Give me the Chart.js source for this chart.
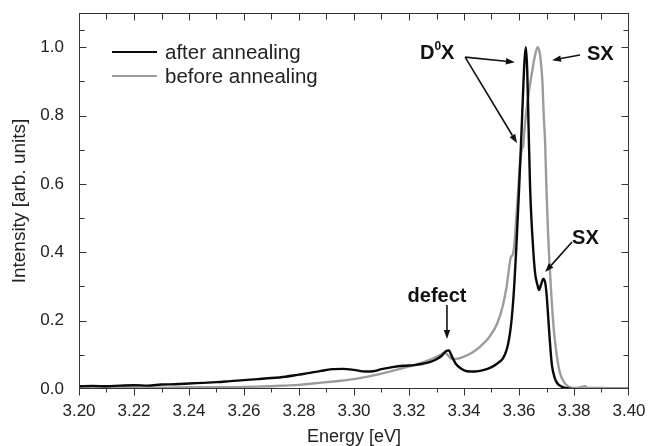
<!DOCTYPE html>
<html>
<head>
<meta charset="utf-8">
<script src="https://cdn.jsdelivr.net/npm/chart.js@4.4.0/dist/chart.umd.min.js"></script>
<style>
  html, body { margin: 0; padding: 0; background: #fff; }
  #wrap { position: relative; width: 650px; height: 446px; }
</style>
</head>
<body>
<div id="wrap"><canvas id="pl-chart"></canvas></div>
<script>
// PL spectra, normalised
const seriesLabels = ["after annealing", "before annealing"];

const afterEnergy = [
  3.200, 3.205, 3.210, 3.215, 3.220, 3.225, 3.230, 3.235, 3.240, 3.245,
  3.250, 3.255, 3.260, 3.265, 3.270, 3.275, 3.280, 3.284, 3.288, 3.292,
  3.296, 3.300, 3.304, 3.307, 3.310, 3.314, 3.318, 3.322, 3.325, 3.328,
  3.330, 3.332, 3.3335, 3.3345, 3.3355, 3.337, 3.339, 3.341, 3.344, 3.347,
  3.350, 3.352, 3.354, 3.355, 3.356, 3.357, 3.358, 3.359, 3.360, 3.361,
  3.362, 3.3625, 3.363, 3.3635, 3.364, 3.3645, 3.365, 3.3655, 3.366, 3.3667,
  3.3673, 3.368, 3.3688, 3.3695, 3.370, 3.3705, 3.371, 3.3715, 3.372, 3.373,
  3.374, 3.3755, 3.377, 3.379
];
const afterIntensity = [
  0.008, 0.009, 0.008, 0.010, 0.011, 0.010, 0.013, 0.014, 0.016, 0.018,
  0.020, 0.023, 0.026, 0.029, 0.032, 0.036, 0.042, 0.047, 0.053, 0.058,
  0.059, 0.056, 0.051, 0.052, 0.058, 0.064, 0.068, 0.070, 0.074, 0.080,
  0.087, 0.098, 0.111, 0.113, 0.097, 0.074, 0.059, 0.052, 0.051, 0.055,
  0.064, 0.074, 0.088, 0.103, 0.130, 0.180, 0.270, 0.410, 0.580, 0.770,
  0.960, 1.000, 0.930, 0.760, 0.600, 0.500, 0.430, 0.370, 0.330, 0.305,
  0.290, 0.305, 0.322, 0.312, 0.280, 0.225, 0.165, 0.110, 0.068, 0.032,
  0.016, 0.007, 0.003, 0.000
];

const beforeEnergy = [
  3.200, 3.210, 3.220, 3.230, 3.240, 3.250, 3.260, 3.265, 3.270, 3.275,
  3.280, 3.285, 3.290, 3.295, 3.300, 3.305, 3.310, 3.315, 3.320, 3.325,
  3.328, 3.331, 3.333, 3.334, 3.3355, 3.337, 3.340, 3.343, 3.346, 3.349,
  3.352, 3.354, 3.3555, 3.3565, 3.357, 3.3578, 3.3585, 3.359, 3.3597, 3.3603,
  3.361, 3.3615, 3.362, 3.3628, 3.3638, 3.3648, 3.3658, 3.3668, 3.3677, 3.3685,
  3.369, 3.3695, 3.370, 3.3705, 3.371, 3.3718, 3.3727, 3.3737, 3.3748, 3.376,
  3.3775, 3.379, 3.381, 3.384, 3.385, 3.390, 3.395, 3.400
];
const beforeIntensity = [
  0.004, 0.004, 0.004, 0.004, 0.005, 0.005, 0.006, 0.007, 0.008, 0.010,
  0.012, 0.016, 0.020, 0.024, 0.029, 0.036, 0.045, 0.055, 0.066, 0.078,
  0.087, 0.098, 0.107, 0.100, 0.088, 0.088, 0.095, 0.107, 0.125, 0.150,
  0.190, 0.240, 0.300, 0.360, 0.385, 0.395, 0.440, 0.500, 0.580, 0.650,
  0.700, 0.710, 0.760, 0.820, 0.880, 0.930, 0.975, 1.000, 0.975, 0.900,
  0.800, 0.720, 0.580, 0.470, 0.380, 0.270, 0.170, 0.100, 0.050, 0.025,
  0.010, 0.004, 0.003, 0.008, 0.003, 0.003, 0.002, 0.003
];

const xTicks = [3.20, 3.22, 3.24, 3.26, 3.28, 3.30, 3.32, 3.34, 3.36, 3.38, 3.40];
const yTicks = [0.0, 0.2, 0.4, 0.6, 0.8, 1.0];

const FONT = "'Liberation Sans', Arial, sans-serif";
const TEXT = "#222";

function toPoints(xs, ys) {
  return xs.map((v, i) => ({ x: v, y: ys[i] }));
}

// arrow + text annotations, anchored in data units
const notes = [
  { text: "defect", x: 3.3302, y: 0.272, align: "center", from: [3.3338, 0.246], to: [[3.3338, 0.146]] },
  { text: "SX", x: 3.3847, y: 0.980, align: "left", from: [3.3822, 0.977], to: [[3.3720, 0.962]] },
  { text: "SX", x: 3.3793, y: 0.440, align: "left", from: [3.3793, 0.430], to: [[3.3695, 0.342]] },
];

function arrow(ctx, x1, y1, x2, y2) {
  const ang = Math.atan2(y2 - y1, x2 - x1);
  const len = 9, half = 3.2;
  const bx = x2 - len * Math.cos(ang), by = y2 - len * Math.sin(ang);
  ctx.beginPath();
  ctx.moveTo(x1, y1);
  ctx.lineTo(bx, by);
  ctx.stroke();
  ctx.beginPath();
  ctx.moveTo(x2, y2);
  ctx.lineTo(bx - half * Math.sin(ang), by + half * Math.cos(ang));
  ctx.lineTo(bx + half * Math.sin(ang), by - half * Math.cos(ang));
  ctx.closePath();
  ctx.fill();
}

const framePlugin = {
  id: "frame",
  afterDatasetsDraw(chart) {
    const { ctx, chartArea: a, scales: { x, y } } = chart;
    ctx.save();
    ctx.strokeStyle = "#333";
    ctx.lineWidth = 1;
    const L = a.left + 0.5, R = a.right - 0.5, T = a.top + 0.5, B = a.bottom - 0.5;
    ctx.strokeRect(L, T, R - L, B - T);
    const clampX = p => Math.min(Math.max(p, L), R);
    const clampY = p => Math.min(Math.max(p, T), B);

    // x ticks: bottom outward, top inward; minor ones halfway
    ctx.beginPath();
    xTicks.forEach((v, i) => {
      const px = clampX(Math.round(x.getPixelForValue(v)) + 0.5);
      ctx.moveTo(px, B); ctx.lineTo(px, B + 7);
      ctx.moveTo(px, T); ctx.lineTo(px, T + 7);
      if (i < xTicks.length - 1) {
        const mx = Math.round(x.getPixelForValue((v + xTicks[i + 1]) / 2)) + 0.5;
        ctx.moveTo(mx, B); ctx.lineTo(mx, B + 4);
        ctx.moveTo(mx, T); ctx.lineTo(mx, T + 6);
      }
    });
    // y ticks: inward on both sides
    const yAll = yTicks.concat([1.1]);
    yAll.forEach((v, i) => {
      const py = clampY(Math.round(y.getPixelForValue(v)) + 0.5);
      if (v <= 1.0) {
        ctx.moveTo(L, py); ctx.lineTo(L + 7, py);
        ctx.moveTo(R, py); ctx.lineTo(R - 7, py);
      }
      if (i < yAll.length - 1) {
        const my = Math.round(y.getPixelForValue((v + yAll[i + 1]) / 2)) + 0.5;
        ctx.moveTo(L, my); ctx.lineTo(L + 5, my);
        ctx.moveTo(R, my); ctx.lineTo(R - 5, my);
      }
    });
    ctx.stroke();

    // legend
    const items = chart.data.datasets;
    items.forEach((ds, i) => {
      const ly = 52 + i * 24;
      ctx.strokeStyle = ds.borderColor;
      ctx.lineWidth = 2.2;
      ctx.beginPath();
      ctx.moveTo(112, ly); ctx.lineTo(157, ly);
      ctx.stroke();
      ctx.fillStyle = TEXT;
      ctx.font = "20.5px " + FONT;
      ctx.textAlign = "left";
      ctx.textBaseline = "middle";
      ctx.fillText(ds.label, 165, ly + 1);
    });

    // annotations
    ctx.strokeStyle = "#111";
    ctx.fillStyle = "#111";
    ctx.lineWidth = 1.6;
    ctx.font = "bold 20px " + FONT;
    ctx.textBaseline = "middle";
    notes.forEach(n => {
      ctx.textAlign = n.align;
      ctx.fillText(n.text, x.getPixelForValue(n.x), y.getPixelForValue(n.y));
      const fx = x.getPixelForValue(n.from[0]), fy = y.getPixelForValue(n.from[1]);
      n.to.forEach(t => arrow(ctx, fx, fy, x.getPixelForValue(t[0]), y.getPixelForValue(t[1])));
    });

    // D0X with superscript zero
    const dx = x.getPixelForValue(3.3240), dy = y.getPixelForValue(0.982);
    ctx.textAlign = "left";
    ctx.font = "bold 20px " + FONT;
    ctx.fillText("D", dx, dy);
    let w = ctx.measureText("D").width;
    ctx.font = "bold 12px " + FONT;
    ctx.fillText("0", dx + w, dy - 7);
    w += ctx.measureText("0").width;
    ctx.font = "bold 20px " + FONT;
    ctx.fillText("X", dx + w, dy);
    const ox = x.getPixelForValue(3.3404), oy = y.getPixelForValue(0.971);
    arrow(ctx, ox, oy, x.getPixelForValue(3.3585), y.getPixelForValue(0.956));
    arrow(ctx, ox, oy, x.getPixelForValue(3.3593), y.getPixelForValue(0.719));

    ctx.restore();
  }
};

const ctx = document.getElementById("pl-chart").getContext("2d");
new Chart(ctx, {
  type: "line",
  data: {
    datasets: [
      {
        label: seriesLabels[0],
        data: toPoints(afterEnergy, afterIntensity),
        borderColor: "#0a0a0a",
        borderWidth: 2.4,
      },
      {
        label: seriesLabels[1],
        data: toPoints(beforeEnergy, beforeIntensity),
        borderColor: "#9c9c9c",
        borderWidth: 2.4,
      },
    ],
  },
  options: {
    responsive: true,
    maintainAspectRatio: false,
    animation: false,
    layout: { padding: { top: 13, right: 21, left: 0, bottom: 0 } },
    elements: {
      point: { radius: 0 },
      line: { cubicInterpolationMode: "monotone" },
    },
    plugins: {
      legend: { display: false },
      tooltip: { enabled: false },
    },
    scales: {
      x: {
        type: "linear",
        min: 3.20,
        max: 3.40,
        grid: { display: false },
        border: { display: false },
        afterBuildTicks: s => { s.ticks = xTicks.map(v => ({ value: v })); },
        afterFit: s => { s.height = 57; s.paddingLeft = 0; s.paddingRight = 0; },
        ticks: {
          padding: 4,
          color: TEXT,
          font: { family: FONT, size: 17 },
          maxRotation: 0,
          callback: v => v.toFixed(2),
        },
        title: {
          display: true,
          text: "Energy [eV]",
          color: TEXT,
          font: { family: FONT, size: 18, lineHeight: 1 },
          padding: { top: 0, bottom: 0 },
        },
      },
      y: {
        type: "linear",
        min: 0,
        max: 1.1,
        grid: { display: false },
        border: { display: false },
        afterBuildTicks: s => { s.ticks = yTicks.map(v => ({ value: v })); },
        afterFit: s => { s.width = 79; s.paddingTop = 0; s.paddingBottom = 0; },
        ticks: {
          padding: 7,
          color: TEXT,
          font: { family: FONT, size: 17 },
          callback: v => v.toFixed(1),
        },
        title: {
          display: true,
          text: "Intensity [arb. units]",
          color: TEXT,
          font: { family: FONT, size: 19, lineHeight: 1 },
          padding: { top: 10.5, bottom: 0 },
        },
      },
    },
  },
  plugins: [framePlugin],
});
</script>
</body>
</html>
